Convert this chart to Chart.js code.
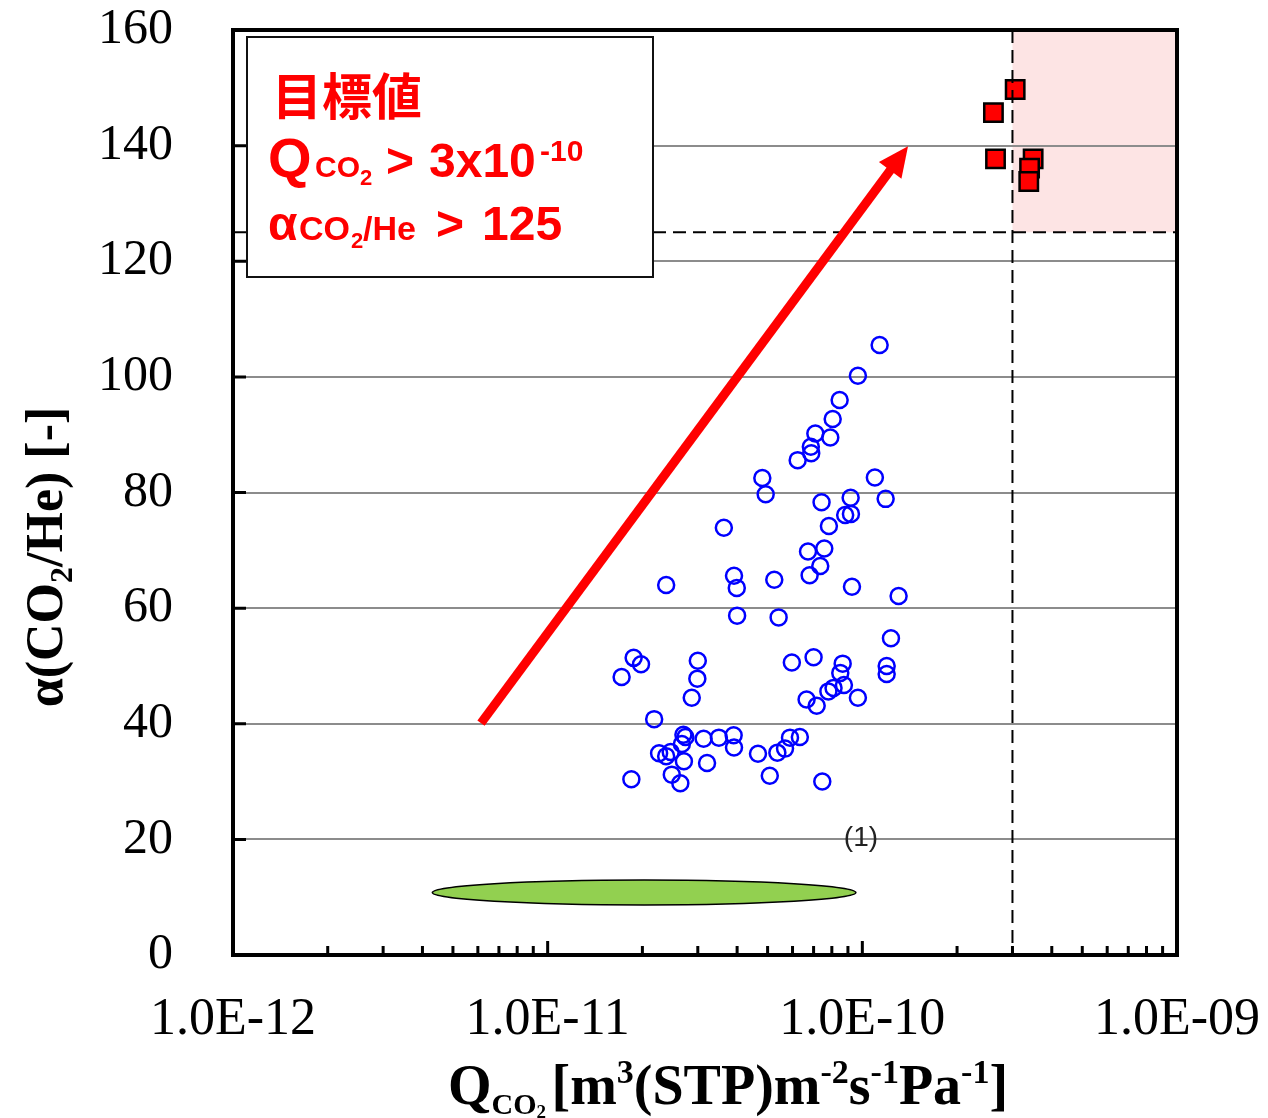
<!DOCTYPE html>
<html>
<head>
<meta charset="utf-8">
<script src="https://cdn.jsdelivr.net/npm/chart.js@4.4.1/dist/chart.umd.min.js"></script>
<style>
  html, body { margin: 0; padding: 0; background: #fff; }
  canvas { display: block; }
</style>
</head>
<body>
<canvas id="chart" width="1268" height="1118"></canvas>
<script>
// measured membranes (blue circles)
const blueQ = [
  1.135e-10, 9.68e-11, 8.47e-11, 8.05e-11, 7.91e-11, 7.09e-11, 6.86e-11, 6.88e-11, 6.23e-11, 4.81e-11,
  4.93e-11, 1.096e-10, 1.186e-10, 9.18e-11, 7.42e-11, 9.2e-11, 8.82e-11, 7.83e-11, 3.63e-11, 6.72e-11,
  7.57e-11, 7.35e-11, 6.8e-11, 3.91e-11, 3.99e-11, 5.25e-11, 2.38e-11, 9.27e-11, 1.304e-10, 4.0e-11,
  5.42e-11, 1.233e-10, 1.876e-11, 1.98e-11, 1.718e-11, 3.0e-11, 2.99e-11, 2.87e-11, 2.18e-11, 5.97e-11,
  7.0e-11, 8.66e-11, 8.51e-11, 1.195e-10, 1.195e-10, 8.74e-11, 7.8e-11, 8.1e-11, 6.65e-11, 7.16e-11,
  9.68e-11, 2.70e-11, 2.74e-11, 2.67e-11, 3.13e-11, 3.50e-11, 3.90e-11, 3.91e-11, 2.26e-11, 2.38e-11,
  2.46e-11, 2.71e-11, 3.21e-11, 2.48e-11, 2.64e-11, 1.845e-11, 4.66e-11, 5.37e-11, 5.68e-11, 5.89e-11,
  6.33e-11, 5.08e-11, 7.46e-11
];
const blueAlpha = [
  105.5, 100.2, 96.0, 92.7, 89.5, 90.2, 87.9, 86.8, 85.6, 82.5,
  79.7, 82.6, 78.9, 79.1, 78.3, 76.3, 76.1, 74.2, 73.9, 69.8,
  70.3, 67.3, 65.7, 65.6, 63.5, 64.9, 64.0, 63.7, 62.1, 58.7,
  58.4, 54.8, 51.4, 50.3, 48.1, 50.9, 47.8, 44.5, 40.8, 50.6,
  51.5, 50.4, 48.8, 50.0, 48.6, 46.7, 45.6, 46.2, 44.2, 43.1,
  44.5, 38.1, 37.7, 36.5, 37.4, 37.6, 38.0, 35.9, 34.9, 34.4,
  35.1, 33.5, 33.2, 31.2, 29.7, 30.4, 34.8, 35.0, 35.7, 37.6,
  37.7, 31.0, 30.0
];

// target-reaching membranes (red squares)
const redQ = [3.06e-10, 2.61e-10, 2.65e-10, 3.49e-10, 3.40e-10, 3.38e-10];
const redAlpha = [149.7, 145.7, 137.7, 137.7, 136.1, 133.8];

const yTickValues = [0, 20, 40, 60, 80, 100, 120, 140, 160];
const xTickValues = [1e-12, 1e-11, 1e-10, 1e-9];
const xTickLabels = ['1.0E-12', '1.0E-11', '1.0E-10', '1.0E-09'];

// target values
const targetQ = 3e-10;
const targetAlpha = 125;

// arrow, ellipse (1)
const arrowQ = [6.14e-12, 1.397e-10];
const arrowAlpha = [40.1, 139.9];
const ellipseQ = [4.30e-12, 9.54e-11];
const ellipseAlpha = [8.65, 12.97];
const noteQ = 9.9e-11;
const noteAlpha = 20.2;

const serifB = s => `bold ${s}px "Liberation Serif"`;
const sansB = s => `bold ${s}px "Liberation Sans", Arial`;

function flowWidth(ctx, runs) {
    let w = 0;
    runs.forEach(r => { ctx.font = r.f; w += ctx.measureText(r.t).width; });
    return w;
}

function flowRuns(ctx, runs, x, y) {
    runs.forEach(r => {
        ctx.font = r.f;
        ctx.fillText(r.t, x, y + (r.dy || 0));
        x += ctx.measureText(r.t).width;
    });
}

// no extra room for overhanging tick labels
function noPadding(scale) {
    scale.paddingLeft = 0;
    scale.paddingRight = 0;
    scale.paddingTop = 0;
    scale.paddingBottom = 0;
}

const decorations = {
    id: 'decorations',
    beforeDraw(chart) {
        const { ctx, chartArea: a, scales: { x, y } } = chart;
        // target zone
        const zx = x.getPixelForValue(targetQ);
        const zy = y.getPixelForValue(targetAlpha);
        ctx.save();
        ctx.fillStyle = '#fde4e4';
        ctx.fillRect(zx, a.top, a.right - zx, zy - a.top);
        ctx.restore();
    },
    afterDatasetsDraw(chart) {
        const { ctx, chartArea: a, scales: { x, y } } = chart;
        ctx.save();

        // dashed target lines
        const zx = x.getPixelForValue(targetQ);
        const zy = y.getPixelForValue(targetAlpha);
        ctx.strokeStyle = '#000';
        ctx.lineWidth = 2;
        ctx.setLineDash([13, 7]);
        ctx.beginPath();
        ctx.moveTo(a.left, zy);
        ctx.lineTo(a.right, zy);
        ctx.moveTo(zx, a.top);
        ctx.lineTo(zx, a.bottom);
        ctx.stroke();
        ctx.setLineDash([]);

        // green ellipse
        const ex0 = x.getPixelForValue(ellipseQ[0]);
        const ex1 = x.getPixelForValue(ellipseQ[1]);
        const ey0 = y.getPixelForValue(ellipseAlpha[0]);
        const ey1 = y.getPixelForValue(ellipseAlpha[1]);
        ctx.beginPath();
        ctx.ellipse((ex0 + ex1) / 2, (ey0 + ey1) / 2, (ex1 - ex0) / 2, Math.abs(ey0 - ey1) / 2, 0, 0, Math.PI * 2);
        ctx.fillStyle = '#92d050';
        ctx.fill();
        ctx.strokeStyle = '#000';
        ctx.lineWidth = 1.5;
        ctx.stroke();

        // (1)
        ctx.fillStyle = '#222';
        ctx.font = '28px Arial, "Liberation Sans"';
        ctx.textAlign = 'center';
        ctx.textBaseline = 'middle';
        ctx.fillText('(1)', x.getPixelForValue(noteQ), y.getPixelForValue(noteAlpha));

        // red arrow
        const x0 = x.getPixelForValue(arrowQ[0]), y0 = y.getPixelForValue(arrowAlpha[0]);
        const x1 = x.getPixelForValue(arrowQ[1]), y1 = y.getPixelForValue(arrowAlpha[1]);
        const ang = Math.atan2(y1 - y0, x1 - x0);
        const headLen = 30, headW = 14;
        const bx = x1 - headLen * Math.cos(ang), by = y1 - headLen * Math.sin(ang);
        ctx.strokeStyle = '#ff0000';
        ctx.fillStyle = '#ff0000';
        ctx.lineWidth = 9;
        ctx.beginPath();
        ctx.moveTo(x0, y0);
        ctx.lineTo(bx + 2 * Math.cos(ang), by + 2 * Math.sin(ang));
        ctx.stroke();
        ctx.beginPath();
        ctx.moveTo(x1, y1);
        ctx.lineTo(bx + headW * Math.sin(ang), by - headW * Math.cos(ang));
        ctx.lineTo(bx - headW * Math.sin(ang), by + headW * Math.cos(ang));
        ctx.closePath();
        ctx.fill();

        // target text box
        ctx.fillStyle = '#fff';
        ctx.fillRect(247, 37, 406, 240);
        ctx.strokeStyle = '#111';
        ctx.lineWidth = 2;
        ctx.strokeRect(247, 37, 406, 240);

        ctx.fillStyle = '#ff0000';
        ctx.textAlign = 'left';
        ctx.textBaseline = 'middle';
        ctx.font = 'bold 50px "Noto Sans CJK JP"';
        ctx.fillText('目標値', 272, 96);

        ctx.textBaseline = 'alphabetic';
        const boxRuns = [
            { t: 'Q', f: sansB(56), x: 268, b: 177 },
            { t: 'CO', f: sansB(30), x: 315, b: 177 },
            { t: '2', f: sansB(22), x: 360, b: 185 },
            { t: '>', f: sansB(48), x: 386, b: 177 },
            { t: '3x10', f: sansB(48), x: 429, b: 177 },
            { t: '-10', f: sansB(30), x: 540, b: 161 },
            { t: 'α', f: sansB(48), x: 268, b: 240 },
            { t: 'CO', f: sansB(34), x: 299, b: 240 },
            { t: '2', f: sansB(22), x: 351, b: 248 },
            { t: '/He', f: sansB(34), x: 363, b: 240 },
            { t: '>', f: sansB(48), x: 436, b: 240 },
            { t: '125', f: sansB(48), x: 482, b: 240 }
        ];
        boxRuns.forEach(r => {
            ctx.font = r.f;
            ctx.fillText(r.t, r.x, r.b);
        });

        ctx.restore();
    },
    afterDraw(chart) {
        const { ctx, chartArea: a, scales: { x, y } } = chart;
        ctx.save();

        // inward ticks
        ctx.strokeStyle = '#000';
        ctx.lineWidth = 3;
        ctx.beginPath();
        yTickValues.slice(1, -1).forEach(v => {
            const py = y.getPixelForValue(v);
            ctx.moveTo(a.left, py);
            ctx.lineTo(a.left + 13, py);
        });
        for (let d = -12; d < -9; d++) {
            for (let k = 1; k <= 9; k++) {
                if (k === 1 && d === -12) continue;
                const px = x.getPixelForValue(k * Math.pow(10, d));
                ctx.moveTo(px, a.bottom);
                ctx.lineTo(px, a.bottom - (k === 1 ? 14 : 9));
            }
        }
        ctx.stroke();

        // frame
        ctx.lineWidth = 4;
        ctx.strokeRect(a.left, a.top, a.right - a.left, a.bottom - a.top);

        // axis titles
        ctx.fillStyle = '#000';
        ctx.textAlign = 'left';
        ctx.textBaseline = 'alphabetic';
        const xTitle = [
            { t: 'Q', f: serifB(56) },
            { t: 'CO', f: serifB(30), dy: 10 },
            { t: '2', f: serifB(19), dy: 14 },
            { t: ' ', f: serifB(22) },
            { t: '[m', f: serifB(56) },
            { t: '3', f: serifB(34), dy: -21 },
            { t: '(STP)m', f: serifB(56) },
            { t: '-2', f: serifB(34), dy: -21 },
            { t: 's', f: serifB(56) },
            { t: '-1', f: serifB(34), dy: -21 },
            { t: 'Pa', f: serifB(56) },
            { t: '-1', f: serifB(34), dy: -21 },
            { t: ']', f: serifB(56) }
        ];
        const xw = flowWidth(ctx, xTitle);
        flowRuns(ctx, xTitle, 728 - xw / 2, 1104);

        const yTitle = [
            { t: 'α(CO', f: serifB(52) },
            { t: '2', f: serifB(32), dy: 10 },
            { t: '/He) [-]', f: serifB(52) }
        ];
        const yw = flowWidth(ctx, yTitle);
        ctx.translate(62, 557);
        ctx.rotate(-Math.PI / 2);
        flowRuns(ctx, yTitle, -yw / 2, 0);

        ctx.restore();
    }
};

const toPoints = (xs, ys) => xs.map((v, i) => ({ x: v, y: ys[i] }));

new Chart(document.getElementById('chart'), {
    type: 'scatter',
    data: {
        datasets: [
            {
                label: 'target',
                data: toPoints(redQ, redAlpha),
                pointStyle: 'rect',
                pointRadius: 13,
                backgroundColor: '#ff0000',
                borderColor: '#000',
                borderWidth: 2.5
            },
            {
                label: 'membranes',
                data: toPoints(blueQ, blueAlpha),
                pointStyle: 'circle',
                pointRadius: 8,
                backgroundColor: 'rgba(0,0,0,0)',
                borderColor: '#0000ff',
                borderWidth: 2.5
            }
        ]
    },
    options: {
        responsive: false,
        animation: false,
        devicePixelRatio: 1,
        layout: { padding: { top: 30, right: 91, left: 0, bottom: 0 } },
        plugins: { legend: { display: false }, tooltip: { enabled: false } },
        scales: {
            x: {
                type: 'logarithmic',
                min: 1e-12,
                max: 1e-9,
                afterBuildTicks: scale => { scale.ticks = xTickValues.map(v => ({ value: v, major: true })); },
                afterFit: scale => { scale.height = 163; noPadding(scale); },
                grid: { display: false, drawTicks: false },
                border: { display: false },
                ticks: {
                    autoSkip: false,
                    maxRotation: 0,
                    padding: 34,
                    color: '#000',
                    font: { family: 'Liberation Serif', size: 52 },
                    callback: (v, i) => xTickLabels[i]
                }
            },
            y: {
                min: 0,
                max: 160,
                afterBuildTicks: scale => { scale.ticks = yTickValues.map(v => ({ value: v })); },
                afterFit: scale => { scale.width = 233; noPadding(scale); },
                grid: { color: '#8c8c8c', lineWidth: 2, drawTicks: false },
                border: { display: false },
                ticks: {
                    padding: 60,
                    color: '#000',
                    font: { family: 'Liberation Serif', size: 50 },
                    callback: v => String(v)
                }
            }
        }
    },
    plugins: [decorations]
});
</script>
</body>
</html>
